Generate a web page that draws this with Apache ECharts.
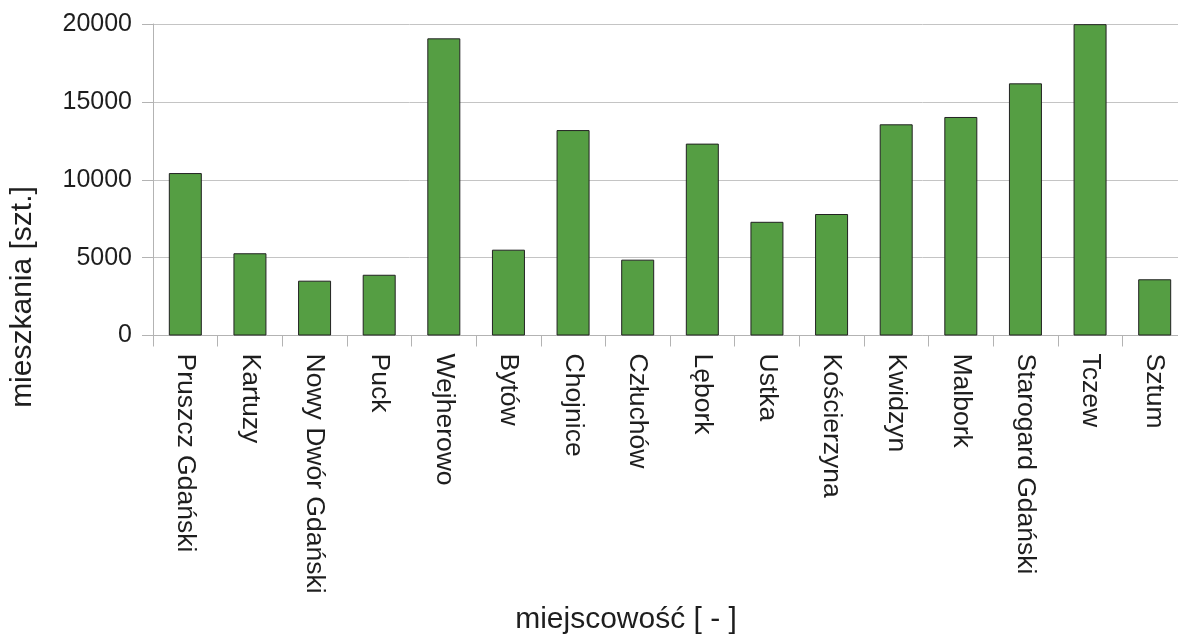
<!DOCTYPE html>
<html>
<head>
<meta charset="utf-8">
<script src="https://cdn.jsdelivr.net/npm/echarts@6/dist/echarts.min.js"></script>
<style>
html,body{margin:0;padding:0;background:#fff;}
#chart{width:1178px;height:635px;}
</style>
</head>
<body>
<div id="chart"></div>
<script>
const categories = ["Pruszcz Gdański","Kartuzy","Nowy Dwór Gdański","Puck","Wejherowo","Bytów","Chojnice","Człuchów","Lębork","Ustka","Kościerzyna","Kwidzyn","Malbork","Starogard Gdański","Tczew","Sztum"];
const values = [10430, 5280, 3520, 3900, 19080, 5510, 13190, 4870, 12320, 7300, 7800, 13560, 14030, 16190, 19990, 3610];
const yTicks = [0, 5000, 10000, 15000, 20000];
const xTitle = "miejscowość [ - ]";
const yTitle = "mieszkania [szt.]";

const FONT = "'Liberation Sans', Arial, sans-serif";
const chart = echarts.init(document.getElementById('chart'), null, {renderer: 'canvas'});
chart.setOption({
  animation: false,
  backgroundColor: '#ffffff',
  grid: {left: 153, top: 24, height: 311.5, width: 1034, containLabel: false, outerBoundsMode: 'none'},
  xAxis: {
    type: 'category',
    data: categories,
    boundaryGap: true,
    axisLine: {show: true, lineStyle: {color: '#b3b3b3', width: 1}},
    axisTick: {show: true, length: 11, alignWithLabel: false, lineStyle: {color: '#b3b3b3'}},
    axisLabel: {rotate: -90, interval: 0, margin: 18, fontFamily: FONT, fontSize: 26.5, color: '#1e1e1e'},
    splitLine: {show: false}
  },
  yAxis: {
    type: 'value',
    min: yTicks[0],
    max: yTicks[yTicks.length - 1],
    interval: yTicks[1] - yTicks[0],
    axisLine: {show: true, lineStyle: {color: '#b3b3b3', width: 1}},
    axisTick: {show: true, length: 11, lineStyle: {color: '#b3b3b3'}},
    axisLabel: {margin: 21, fontFamily: FONT, fontSize: 25, color: '#1e1e1e', formatter: function (v) { return String(v); }},
    splitLine: {show: true, lineStyle: {color: '#c4c4c4', width: 1}}
  },
  graphic: [
    {type: 'text', x: 626, y: 620,
     style: {text: xTitle, font: "30px 'Liberation Sans', Arial, sans-serif", fill: '#1e1e1e', align: 'center', verticalAlign: 'middle'}},
    {type: 'text', x: 23, y: 297, rotation: Math.PI / 2,
     style: {text: yTitle, font: "30px 'Liberation Sans', Arial, sans-serif", fill: '#1e1e1e', align: 'center', verticalAlign: 'middle'}}
  ],
  series: [{
    type: 'bar',
    data: values,
    barWidth: 33,
    itemStyle: {color: '#559e43', borderColor: '#222222', borderWidth: 1}
  }]
});
</script>
</body>
</html>
